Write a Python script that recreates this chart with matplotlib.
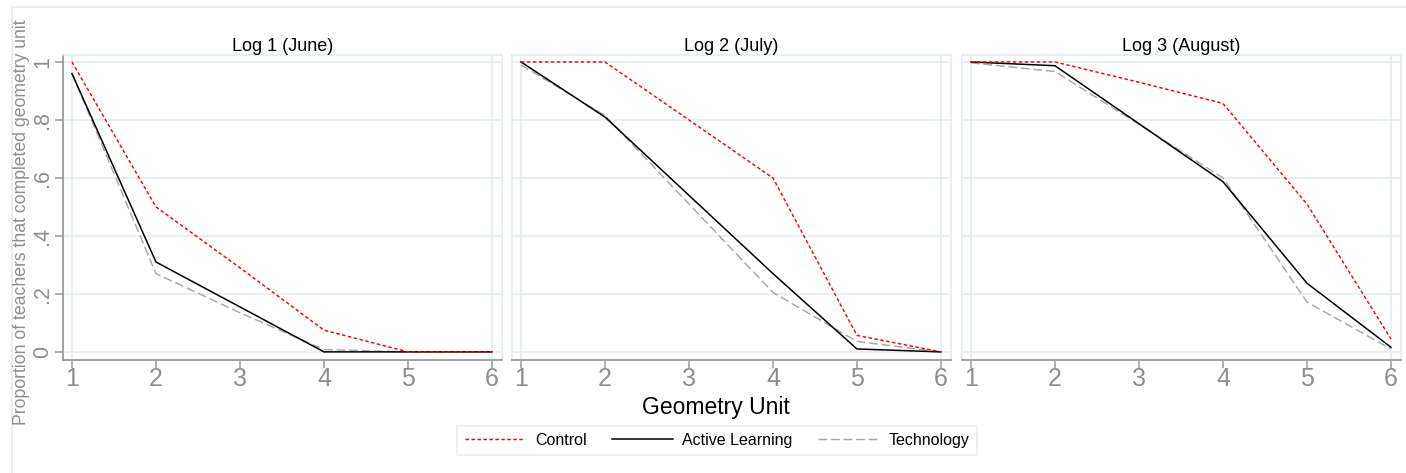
import numpy as np
import matplotlib.pyplot as plt
from matplotlib.lines import Line2D

# data
units = [1, 2, 3, 4, 5, 6]
panel_titles = ["Log 1 (June)", "Log 2 (July)", "Log 3 (August)"]

control_log1 = [1.0, 0.50, 0.29, 0.075, 0.0, 0.0]
active_log1 = [0.96, 0.31, 0.155, 0.0, 0.0, 0.0]
tech_log1 = [0.96, 0.27, 0.135, 0.008, 0.0, 0.0]

control_log2 = [1.0, 1.0, 0.80, 0.60, 0.057, 0.0]
active_log2 = [1.0, 0.81, 0.54, 0.27, 0.01, 0.0]
tech_log2 = [0.99, 0.815, 0.51, 0.205, 0.036, 0.0]

control_log3 = [1.0, 1.0, 0.93, 0.857, 0.51, 0.045]
active_log3 = [1.0, 0.987, 0.787, 0.587, 0.237, 0.016]
tech_log3 = [0.997, 0.967, 0.785, 0.60, 0.172, 0.01]

yticks = [0, 0.2, 0.4, 0.6, 0.8, 1.0]
ytick_labels = ["0", ".2", ".4", ".6", ".8", "1"]

series_names = ["Control", "Active Learning", "Technology"]

regular = ["Liberation Sans", "DejaVu Sans"]

light = "#e3ecee"
axgray = "#9a9a9a"
txtgray = "#8e8e8e"

W, H = 1406, 473
fig = plt.figure(figsize=(W / 100, H / 100), dpi=100)

# outer frame (only top and left edges are visible in the picture)
fig.add_artist(Line2D([12 / W, 1], [1 - 7 / H, 1 - 7 / H], transform=fig.transFigure, color=light, lw=1.2))
fig.add_artist(Line2D([12 / W, 12 / W], [0, 1 - 7 / H], transform=fig.transFigure, color=light, lw=1.2))

data = [(control_log1, active_log1, tech_log1),
        (control_log2, active_log2, tech_log2),
        (control_log3, active_log3, tech_log3)]
lefts = [63, 512, 962]

for i, (ctrl, act, tech) in enumerate(data):
    ax = fig.add_axes([lefts[i] / W, (H - 360) / H, 439 / W, 305 / H])
    for y in yticks:
        ax.axhline(y, color=light, lw=1.1, zorder=0)
    for x in (units[0], units[-1]):
        ax.axvline(x, color=light, lw=1.1, zorder=0)

    ax.plot(units, tech, color="#a8a8a8", lw=1.05, dashes=(6, 2.6), zorder=2)
    ax.plot(units, act, color="black", lw=1.1, zorder=3)
    ax.plot(units, ctrl, color="#ff0000", lw=1.05, dashes=(2.4, 1.7), zorder=4)

    ax.set_xlim(0.893, 6.12)
    ax.set_ylim(-0.028, 1.024)
    ax.set_xticks(units)
    ax.set_xticklabels([str(u) for u in units], family=regular, fontsize=18, color=txtgray)
    ax.tick_params(axis="x", length=6, width=1.1, color=axgray, pad=-1.2)

    for s in ["top", "right", "left"]:
        ax.spines[s].set_color(light)
        ax.spines[s].set_linewidth(1.1)
    ax.spines["bottom"].set_color(axgray)
    ax.spines["bottom"].set_linewidth(1.3)

    if i == 0:
        ax.spines["left"].set_color(axgray)
        ax.spines["left"].set_linewidth(1.3)
        ax.set_yticks(yticks)
        ax.set_yticklabels(ytick_labels, rotation=90, va="center", family=regular, fontsize=15.5, color=txtgray)
        ax.tick_params(axis="y", length=6, width=1.1, color=axgray, pad=1)
    else:
        ax.set_yticks([])

    ax.set_title(panel_titles[i], family=regular, fontsize=13, pad=2.7)

fig.text(22 / W, 1 - 222 / H, "Proportion of teachers that completed geometry unit",
         rotation=90, ha="center", va="center", family=regular, fontsize=12.7, color=txtgray)
fig.text(716 / W, 1 - 414 / H, "Geometry Unit", ha="center", va="baseline", family=regular, fontsize=16.5)

handles = [Line2D([], [], color="#ff0000", lw=1.05, dashes=(2.4, 1.7)),
           Line2D([], [], color="black", lw=1.1),
           Line2D([], [], color="#a8a8a8", lw=1.05, dashes=(6, 2.6))]
leg = fig.legend(handles, series_names, loc="center", bbox_to_anchor=(717 / W, 1 - 440.5 / H), ncol=3,
                 prop={"family": regular, "size": 11.5}, frameon=True, fancybox=False,
                 handlelength=3.8, handletextpad=0.6, columnspacing=1.6, borderpad=0.45)
leg.get_frame().set_edgecolor(light)
leg.get_frame().set_linewidth(1.1)

fig.savefig("out.png", dpi=100)
